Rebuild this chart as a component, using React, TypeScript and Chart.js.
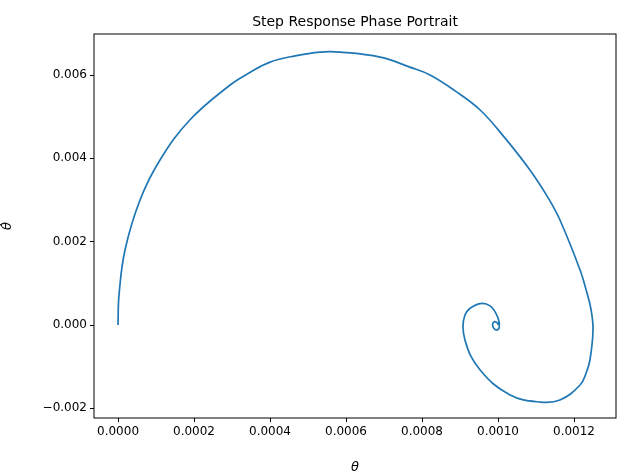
import React, { useEffect, useRef } from "react";
import { Chart, registerables } from "chart.js";
import type { Plugin } from "chart.js";

Chart.register(...registerables);

// phase portrait samples (theta, theta-dot)
const thetaValues = [
  0, 0.0000026, 0.0000184, 0.0000579, 0.0001105, 0.000189, 0.000295, 0.000347, 0.0004, 0.000466,
  0.000532, 0.000584, 0.00069, 0.000768, 0.000821, 0.000887, 0.000953, 0.001018, 0.001084, 0.001132,
  0.001163, 0.001216, 0.001232, 0.001245, 0.00125, 0.001242, 0.001232, 0.001216, 0.001163, 0.001111,
  0.001032, 0.000953, 0.000913, 0.000913, 0.000947, 0.000979, 0.001, 0.001003, 0.000995, 0.000986,
  0.00099, 0.001, 0.001,
];
const thetaDotValues = [
  0, 0.00072, 0.0018, 0.003, 0.00396, 0.00492, 0.00576, 0.00606, 0.00631, 0.00646,
  0.00655, 0.00655, 0.00643, 0.00619, 0.006, 0.00562, 0.00516, 0.00449, 0.00372, 0.00305,
  0.00252, 0.00132, 0.00084, 0.00036, -0.00012, -0.00084, -0.00115, -0.00144, -0.0018, -0.00185,
  -0.00168, -0.00108, -0.00036, 0.00024, 0.0005, 0.00046, 0.00017, -0.00007, -0.00012, -0.00002,
  0.00008, 0.00004, 0,
];
const xTicks = [0, 0.0002, 0.0004, 0.0006, 0.0008, 0.001, 0.0012];
const yTicks = [-0.002, 0, 0.002, 0.004, 0.006];

const FONT = "'DejaVu Sans', sans-serif";

const framePlugin: Plugin<"scatter"> = {
  id: "frame",
  afterDraw: (chart) => {
    const { ctx, chartArea: a } = chart;
    ctx.save();
    ctx.strokeStyle = "#000";
    ctx.lineWidth = 1;
    ctx.strokeRect(a.left, a.top, a.right - a.left, a.bottom - a.top);
    ctx.fillStyle = "#000";
    ctx.font = `14px ${FONT}`;
    ctx.textAlign = "center";
    ctx.textBaseline = "alphabetic";
    ctx.fillText("Step Response Phase Portrait", (a.left + a.right) / 2, a.top - 8);
    ctx.restore();
  },
};

const fmt = (v: number, d: number) => {
  const s = Math.abs(v).toFixed(d);
  return v < -1e-12 ? "\u2212" + s : s;
};

export default function App() {
  const canvasRef = useRef<HTMLCanvasElement | null>(null);

  useEffect(() => {
    document.body.style.margin = "0";
    const canvas = canvasRef.current;
    if (!canvas) return;
    const points = thetaValues.map((x, i) => ({ x, y: thetaDotValues[i] }));
    const chart = new Chart(canvas, {
      type: "scatter",
      data: {
        datasets: [
          {
            data: points,
            showLine: true,
            borderColor: "#1f77b4",
            borderWidth: 1.7,
            pointRadius: 0,
            tension: 0.4,
          },
        ],
      },
      options: {
        animation: false,
        responsive: false,
        layout: { padding: { top: 34, right: 16, left: 0, bottom: 0 } },
        plugins: { legend: { display: false }, tooltip: { enabled: false } },
        scales: {
          x: {
            type: "linear",
            min: -0.0000632,
            max: 0.0013105,
            afterBuildTicks: (s) => {
              s.ticks = xTicks.map((value) => ({ value }));
            },
            afterFit: (s) => {
              s.height = 57;
            },
            grid: { drawOnChartArea: false, drawTicks: true, tickLength: 4, color: "#000" },
            border: { display: false },
            ticks: { color: "#000", font: { family: FONT, size: 12 }, callback: (v) => fmt(Number(v), 4), maxRotation: 0 },
            title: { display: true, text: "θ", color: "#000", font: { family: FONT, size: 13, style: "italic" }, padding: { top: 0, bottom: 0 } },
          },
          y: {
            type: "linear",
            min: -0.002232,
            max: 0.006984,
            afterBuildTicks: (s) => {
              s.ticks = yTicks.map((value) => ({ value }));
            },
            afterFit: (s) => {
              s.width = 94;
            },
            grid: { drawOnChartArea: false, drawTicks: true, tickLength: 4, color: "#000" },
            border: { display: false },
            ticks: { color: "#000", font: { family: FONT, size: 12 }, callback: (v) => fmt(Number(v), 3) },
            title: { display: true, text: "θ\u0307", color: "#000", font: { family: FONT, size: 13, style: "italic" }, padding: { top: 0, bottom: 0 } },
          },
        },
      },
      plugins: [framePlugin],
    });
    return () => chart.destroy();
  }, []);

  return <canvas ref={canvasRef} width={632} height={475} style={{ display: "block" }} />;
}
